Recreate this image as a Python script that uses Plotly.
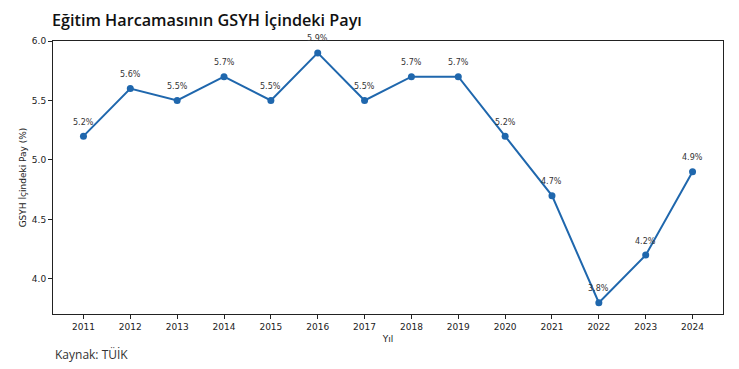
import plotly.graph_objects as go

years = [2011, 2012, 2013, 2014, 2015, 2016, 2017, 2018, 2019, 2020, 2021, 2022, 2023, 2024]
share = [5.2, 5.6, 5.5, 5.7, 5.5, 5.9, 5.5, 5.7, 5.7, 5.2, 4.7, 3.8, 4.2, 4.9]
labels = [f"{v:.1f}%" for v in share]
yticks = [4.0, 4.5, 5.0, 5.5, 6.0]

color = "#1f67ad"
fig = go.Figure()
fig.add_trace(go.Scatter(
    x=years, y=share, mode="lines+markers",
    line=dict(color=color, width=2), marker=dict(color=color, size=7),
    cliponaxis=False, showlegend=False,
))

annots = [dict(x=x, y=y, text=t, xref="x", yref="y", showarrow=False, yshift=14,
               font=dict(family="DejaVu Sans", size=8, color="#333"))
          for x, y, t in zip(years, share, labels)]

axis_common = dict(showline=True, linecolor="#222", linewidth=1, mirror=True, automargin=False,
                   ticks="outside", ticklen=4, tickcolor="#222", showgrid=False, zeroline=False,
                   tickfont=dict(family="DejaVu Sans", size=9, color="#222"))
fig.update_xaxes(range=[2010.35, 2024.65], tickmode="array", tickvals=years,
                 ticktext=[str(y) for y in years],
                 title=dict(text="Yıl", font=dict(family="DejaVu Sans", size=9, color="#222"), standoff=4),
                 **axis_common)
fig.update_yaxes(range=[3.705, 6.0], tickmode="array", tickvals=yticks,
                 ticktext=[f"{v:.1f}" for v in yticks],
                 title=dict(text="GSYH İçindeki Pay (%)", font=dict(family="DejaVu Sans", size=9, color="#222"), standoff=3),
                 **axis_common)

annots.append(dict(text="Kaynak: TÜİK", xref="paper", yref="paper", x=0, xanchor="left",
                   y=-(354-314)/(369-41-55), yanchor="middle", showarrow=False,
                   font=dict(family="Open Sans", size=12, color="#333")))

fig.update_layout(
    width=739, height=369, paper_bgcolor="white", plot_bgcolor="white",
    margin=dict(l=53, r=16, t=41, b=55, autoexpand=False),
    title=dict(text="Eğitim Harcamasının GSYH İçindeki Payı", x=52/739, xanchor="left",
               y=1-20/369, yanchor="middle",
               font=dict(family="Open Sans", size=16.2, color="#111", weight=600)),
    annotations=annots,
)
fig.write_html("out.html", config={"displayModeBar": False},
               post_script="document.body.style.margin='0';document.body.style.overflow='hidden';")
